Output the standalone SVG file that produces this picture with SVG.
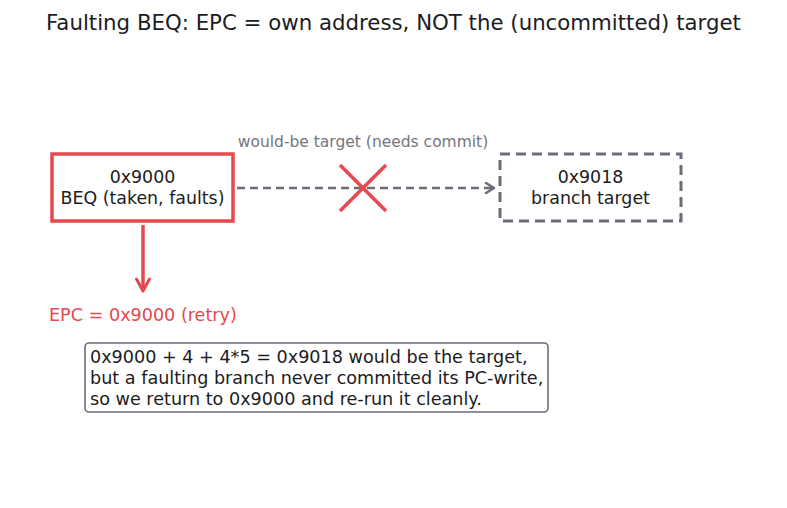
<svg xmlns="http://www.w3.org/2000/svg" width="787" height="508" viewBox="0 0 787 508">
<style>
text { font-family: "DejaVu Sans", sans-serif; fill: #1c1c22; }
.title { font-size: 21.3px; }
.node { font-size: 17.4px; text-anchor: middle; }
.lbl { font-size: 15.5px; fill: #75767e; text-anchor: middle; }
.red { fill: #e5484d; }
.note { font-size: 17.6px; }
</style>
<defs>
<marker id="arrG" viewBox="0 0 12 12" refX="10" refY="6" markerWidth="12" markerHeight="12" markerUnits="userSpaceOnUse" orient="auto">
<path d="M2,1 L10,6 L2,11" fill="none" stroke="#6b6e7a" stroke-width="2.5" stroke-linecap="round" stroke-linejoin="round"/>
</marker>
<marker id="arrR" viewBox="0 0 16 16" refX="14" refY="8" markerWidth="16" markerHeight="16" markerUnits="userSpaceOnUse" orient="auto">
<path d="M2,1.5 L14,8 L2,14.5" fill="none" stroke="#e5484d" stroke-width="3" stroke-linecap="round" stroke-linejoin="round"/>
</marker>
</defs>
<rect width="787" height="508" fill="#ffffff"/>
<text class="title" x="393.5" y="30" text-anchor="middle">Faulting BEQ: EPC = own address, NOT the (uncommitted) target</text>
<g id="connectors">
<line x1="237" y1="188" x2="494" y2="188" stroke="#6b6e7a" stroke-width="2.5" stroke-dasharray="8,5" marker-end="url(#arrG)"/>
<line x1="143" y1="225" x2="143" y2="291" stroke="#e5484d" stroke-width="3.5" marker-end="url(#arrR)"/>
<text class="lbl" x="363" y="147">would-be target (needs commit)</text>
<g id="cross">
<line x1="340" y1="165" x2="386" y2="211" stroke="#e5484d" stroke-width="3.5"/>
<line x1="386" y1="165" x2="340" y2="211" stroke="#e5484d" stroke-width="3.5"/>
</g>
</g>
<g id="beq">
<rect x="52" y="154" width="181" height="67" fill="#ffffff" stroke="#e5484d" stroke-width="3.5"/>
<text class="node" x="142.5" y="183">0x9000</text>
<text class="node" x="142.5" y="204">BEQ (taken, faults)</text>
</g>
<g id="target">
<rect x="500" y="154" width="181" height="67" fill="#ffffff" stroke="#6b6e7a" stroke-width="3" stroke-dasharray="10,6"/>
<text class="node" x="590.5" y="183">0x9018</text>
<text class="node" x="590.5" y="204">branch target</text>
</g>
<g id="epc">
<text class="note red" x="49" y="321">EPC = 0x9000 (retry)</text>
</g>
<g id="note">
<rect x="85" y="343" width="463" height="69" rx="4" fill="#ffffff" stroke="#6b6e7a" stroke-width="1.6"/>
<text class="note" x="90" y="363">0x9000 + 4 + 4*5 = 0x9018 would be the target,</text>
<text class="note" x="90" y="384">but a faulting branch never committed its PC-write,</text>
<text class="note" x="90" y="405">so we return to 0x9000 and re-run it cleanly.</text>
</g>
</svg>
